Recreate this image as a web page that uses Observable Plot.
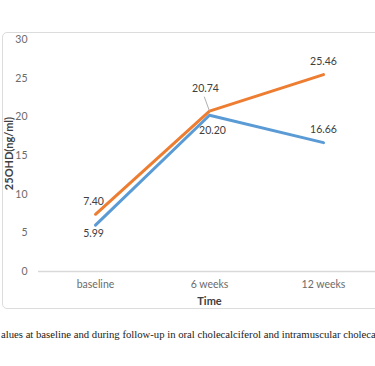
<!DOCTYPE html>
<html>
<head>
<meta charset="utf-8">
<script src="https://cdn.jsdelivr.net/npm/d3@7"></script>
<script src="https://cdn.jsdelivr.net/npm/@observablehq/plot@0.6"></script>
<style>
  html, body { margin: 0; padding: 0; background: #fff; overflow: hidden; width: 375px; height: 366px; }
  #wrap { position: relative; width: 375px; height: 366px; }
  #box { position: absolute; left: 2px; top: 32px; width: 420px; height: 275px; border: 1px solid #dcdcdc; border-radius: 5px; }
  #chart { position: absolute; left: 0; top: 0; }
  #caption { position: absolute; left: 1px; top: 328px; white-space: nowrap; font-family: "Liberation Serif", serif; font-size: 10.7px; color: #222; }
</style>
</head>
<body>
<div id="wrap">
  <div id="box"></div>
  <div id="chart"></div>
  <div id="caption">alues at baseline and during follow-up in oral cholecalciferol and intramuscular choleca</div>
</div>
<script>
const times = ["baseline", "6 weeks", "12 weeks"];
const seriesBlue = [5.99, 20.20, 16.66];
const seriesOrange = [7.40, 20.74, 25.46];
const yTicks = [0, 5, 10, 15, 20, 25, 30];
const labelBlue = ["5.99", "20.20", "16.66"];
const labelOrange = ["7.40", "20.74", "25.46"];
const yTitle = "25OHD(ng/ml)";
const xTitle = "Time";

const blue = times.map((t, i) => ({time: t, value: seriesBlue[i], label: labelBlue[i]}));
const orange = times.map((t, i) => ({time: t, value: seriesOrange[i], label: labelOrange[i]}));

const font = "Lato, 'Open Sans', sans-serif";

const plot = Plot.plot({
  width: 375,
  height: 312,
  marginLeft: 40,
  marginRight: 0,
  marginTop: 39,
  marginBottom: 41,
  style: {fontFamily: font, fontSize: "10px", color: "#595959", background: "transparent", overflow: "visible"},
  x: {type: "point", domain: times, range: [95, 323], padding: 0, label: null},
  y: {domain: [0, 30], label: null},
  marks: [
    Plot.ruleY([0], {stroke: "#d9d9d9", strokeWidth: 1.5, insetLeft: -2}),
    Plot.axisY({ticks: yTicks, tickSize: 0, tickPadding: 13, label: null, fill: "#6b6b6b", fontSize: 10.5}),
    Plot.axisX({tickSize: 0, tickPadding: 9, label: null, fill: "#6b6b6b", fontSize: 10.5}),
    Plot.line(blue, {x: "time", y: "value", stroke: "#5B9BD5", strokeWidth: 3, strokeLinejoin: "round"}),
    Plot.line(orange, {x: "time", y: "value", stroke: "#ED7D31", strokeWidth: 3, strokeLinejoin: "round"}),
    // leader line for 20.74
    Plot.vector(orange.filter((d, i) => i === 1), {x: "time", y: "value", length: 15, rotate: -20, anchor: "start", stroke: "#a6a6a6", strokeWidth: 0.8,
      shape: {draw(context, l) { context.moveTo(0, 0); context.lineTo(0, -l); }}}),
    // orange labels
    Plot.text(orange.filter((d, i) => i === 0), {x: "time", y: "value", text: "label", dx: -2, dy: -13, fill: "#404040", fontSize: 10.5}),
    Plot.text(orange.filter((d, i) => i === 1), {x: "time", y: "value", text: "label", dx: -4, dy: -22, fill: "#404040", fontSize: 10.5}),
    Plot.text(orange.filter((d, i) => i === 2), {x: "time", y: "value", text: "label", dx: 0, dy: -13, fill: "#404040", fontSize: 10.5}),
    // blue labels
    Plot.text(blue.filter((d, i) => i === 0), {x: "time", y: "value", text: "label", dx: -2, dy: 8, fill: "#404040", fontSize: 10.5}),
    Plot.text(blue.filter((d, i) => i === 1), {x: "time", y: "value", text: "label", dx: 3, dy: 15, fill: "#404040", fontSize: 10.5}),
    Plot.text(blue.filter((d, i) => i === 2), {x: "time", y: "value", text: "label", dx: 0, dy: -13, fill: "#404040", fontSize: 10.5}),
    // axis titles
    Plot.text([yTitle], {frameAnchor: "left", textAnchor: "middle", lineAnchor: "middle", rotate: -90, dx: -31, dy: -2, text: d => d, fill: "#404040", fontSize: 11, fontWeight: "bold"}),
    Plot.text([xTitle], {frameAnchor: "bottom", textAnchor: "middle", lineAnchor: "middle", dx: 1.5, dy: 30, text: d => d, fill: "#404040", fontSize: 11, fontWeight: "bold"})
  ]
});
document.getElementById("chart").appendChild(plot);
</script>
</body>
</html>
